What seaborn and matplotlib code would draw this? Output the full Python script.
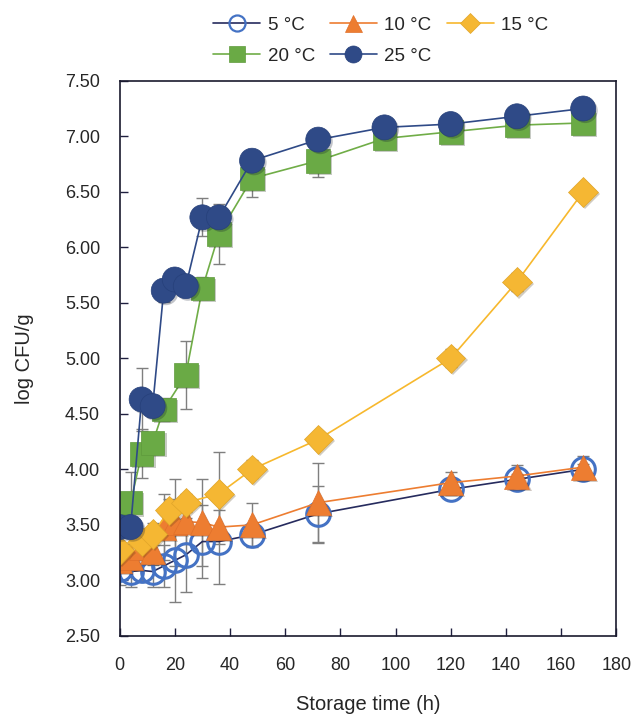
import numpy as np
import pandas as pd
import matplotlib
matplotlib.use("Agg")
import matplotlib.pyplot as plt
import matplotlib.patheffects as pe
from matplotlib.lines import Line2D
import seaborn as sns

# Dados (log CFU/g vs tempo de armazenamento)
t_5 = [0, 4, 8, 12, 16, 20, 24, 30, 36, 48, 72, 120, 144, 168]
y_5 = [3.10, 3.08, 3.09, 3.08, 3.13, 3.18, 3.23, 3.35, 3.35, 3.41, 3.60, 3.82, 3.91, 4.00]
e_5 = [0.14, 0.14, 0.10, 0.14, 0.19, 0.37, 0.33, 0.33, 0.38, 0.10, 0.25, 0.05, 0.05, 0.05]

t_10 = [0, 4, 8, 12, 16, 20, 24, 30, 36, 48, 72, 120, 144, 168]
y_10 = [3.18, 3.21, 3.30, 3.26, 3.48, 3.52, 3.53, 3.52, 3.48, 3.50, 3.70, 3.88, 3.94, 4.02]
e_10 = [0.10, 0.12, 0.10, 0.12, 0.30, 0.39, 0.20, 0.39, 0.15, 0.20, 0.36, 0.10, 0.10, 0.10]

t_15 = [0, 8, 12, 18, 24, 36, 48, 72, 120, 144, 168]
y_15 = [3.27, 3.35, 3.42, 3.63, 3.70, 3.78, 4.00, 4.27, 5.00, 5.69, 6.50]
e_15 = [0.08, 0.08, 0.10, 0.10, 0.08, 0.38, 0.08, 0.05, 0.08, 0.08, 0.05]

t_20 = [0, 4, 8, 12, 16, 24, 30, 36, 48, 72, 96, 120, 144, 168]
y_20 = [3.57, 3.70, 4.14, 4.24, 4.54, 4.85, 5.63, 6.12, 6.62, 6.78, 6.98, 7.04, 7.10, 7.12]
e_20 = [0.10, 0.28, 0.22, 0.10, 0.10, 0.31, 0.10, 0.27, 0.17, 0.15, 0.05, 0.05, 0.05, 0.05]

t_25 = [0, 4, 8, 12, 16, 20, 24, 30, 36, 48, 72, 96, 120, 144, 168]
y_25 = [3.48, 3.48, 4.63, 4.57, 5.61, 5.71, 5.65, 6.27, 6.27, 6.78, 6.97, 7.08, 7.11, 7.18, 7.25]
e_25 = [0.05, 0.05, 0.28, 0.10, 0.10, 0.05, 0.05, 0.17, 0.10, 0.05, 0.05, 0.05, 0.05, 0.05, 0.05]

labels = ["5 °C", "10 °C", "15 °C", "20 °C", "25 °C"]

rows = []
for lab, t, y, e in zip(labels, [t_5, t_10, t_15, t_20, t_25],
                        [y_5, y_10, y_15, y_20, y_25],
                        [e_5, e_10, e_15, e_20, e_25]):
    for ti, yi, ei in zip(t, y, e):
        rows.append({"temp": lab, "tempo": ti, "logcfu": yi, "erro": ei})
df = pd.DataFrame(rows)

# estilos por série
estilo = {
    "5 °C":  dict(line="#262B5E", marker="o", face="none", edge="#4472C4", ms=17, ew=2.2),
    "10 °C": dict(line="#ED7D31", marker="^", face="#ED7D31", edge="#E0702A", ms=18, ew=0.5),
    "15 °C": dict(line="#F7B82D", marker="D", face="#F5B733", edge="#E0A52A", ms=15, ew=0.5),
    "20 °C": dict(line="#70AD47", marker="s", face="#6AAA45", edge="#5E9A3C", ms=17, ew=0.5),
    "25 °C": dict(line="#2F4A87", marker="o", face="#2F4A87", edge="#26407A", ms=18, ew=0.5),
}

sns.set_style("ticks")
plt.rcParams['font.family'] = ['Liberation Sans', 'DejaVu Sans']

fig = plt.figure(figsize=(6.36, 7.21), dpi=100)
ax = fig.add_axes([0.188, 0.118, 0.781, 0.770])

sombra = [pe.SimplePatchShadow(offset=(1.5, -1.5), alpha=0.25), pe.Normal()]

z = 2
for lab in labels:
    sub = df[df["temp"] == lab]
    st = estilo[lab]
    ax.errorbar(sub["tempo"], sub["logcfu"], yerr=sub["erro"], fmt="none",
                ecolor="#7F7F7F", elinewidth=1.0, capsize=4, capthick=1.0, zorder=1)
    sns.lineplot(data=sub, x="tempo", y="logcfu", ax=ax, color=st["line"],
                 linewidth=1.2, zorder=z, legend=False)
    sns.lineplot(data=sub, x="tempo", y="logcfu", ax=ax, color=st["line"],
                 linestyle="none", marker=st["marker"], markersize=st["ms"],
                 markerfacecolor=st["face"], markeredgecolor=st["edge"],
                 markeredgewidth=st["ew"], zorder=z + 0.5, legend=False,
                 path_effects=(None if st["face"] == "none" else sombra))
    z += 1

ax.set_xlim(0, 180)
ax.set_ylim(2.5, 7.5)
ax.set_xticks(np.arange(0, 181, 20))
ax.set_yticks(np.arange(2.5, 7.51, 0.5))
ax.set_yticklabels([f"{v:.2f}" for v in np.arange(2.5, 7.51, 0.5)])
ax.tick_params(direction="in", length=6, width=1, color="#1F1F3F",
               labelsize=13)
ax.tick_params(axis="x", pad=15)
ax.tick_params(axis="y", pad=14)
for sp in ax.spines.values():
    sp.set_visible(True)
    sp.set_color("#1A1A2E")
    sp.set_linewidth(1.2)
    sp.set_zorder(20)
ax.set_xlabel("Storage time (h)", fontsize=14.5, labelpad=15)
ax.set_ylabel("log CFU/g", fontsize=14.5, labelpad=22)

# legenda: ordem por colunas para obter linhas 5/10/15 e 20/25
ordem = ["5 °C", "20 °C", "10 °C", "25 °C", "15 °C"]
handles = []
for lab in ordem:
    st = estilo[lab]
    handles.append(Line2D([], [], color=st["line"], linewidth=1.2, marker=st["marker"],
                          markersize=st["ms"] * 0.68, markerfacecolor=st["face"],
                          markeredgecolor=st["edge"], markeredgewidth=min(st["ew"], 1.6)))
fig.legend(handles, ordem, loc="upper left", bbox_to_anchor=(0.309, 1.0), ncol=3,
           frameon=False, fontsize=13.5, handlelength=2.5, handletextpad=0.4,
           columnspacing=0.8, labelspacing=0.72)

fig.savefig("out.png", dpi=100)
